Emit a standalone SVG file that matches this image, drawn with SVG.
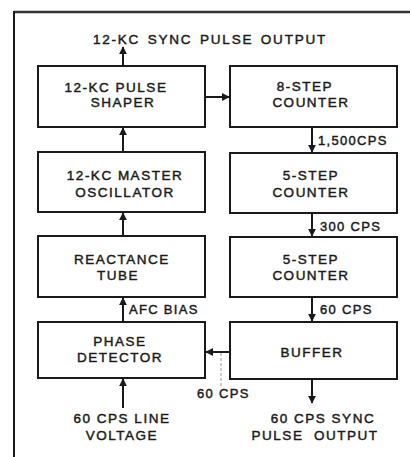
<svg xmlns="http://www.w3.org/2000/svg" width="412" height="457" viewBox="0 0 412 457">
<style>
.box{fill:#fff;stroke:#1a1a1a;stroke-width:2}
.t{font-family:"Liberation Sans",Arial,sans-serif;font-size:13.5px;fill:#1a1a1a;stroke:#1a1a1a;stroke-width:0.45;text-anchor:middle;letter-spacing:1.5px}
.l{font-family:"Liberation Sans",Arial,sans-serif;font-size:13px;fill:#1a1a1a;stroke:#1a1a1a;stroke-width:0.45;letter-spacing:1.3px}
.c{stroke:#1a1a1a;stroke-width:2;fill:none}
</style>
<defs>
<marker id="ah" viewBox="0 0 10 10" refX="9" refY="5" markerWidth="4" markerHeight="4" orient="auto">
<path d="M0,0 L10,5 L0,10 z" fill="#1a1a1a"/>
</marker>
</defs>
<rect width="412" height="457" fill="#fff"/>
<g id="frame">
<line x1="14" y1="12" x2="410" y2="12" stroke="#333" stroke-width="2.5"/>
<line x1="14" y1="11" x2="14" y2="457" stroke="#1a1a1a" stroke-width="2"/>
</g>
<g id="connectors">
<line class="c" x1="123" y1="66" x2="123" y2="47" marker-end="url(#ah)"/>
<line class="c" x1="205" y1="97" x2="229" y2="97" marker-end="url(#ah)"/>
<line class="c" x1="312" y1="127" x2="312" y2="152" marker-end="url(#ah)"/>
<line class="c" x1="123" y1="152" x2="123" y2="128" marker-end="url(#ah)"/>
<line class="c" x1="312" y1="213" x2="312" y2="236" marker-end="url(#ah)"/>
<line class="c" x1="123" y1="236" x2="123" y2="213" marker-end="url(#ah)"/>
<line class="c" x1="312" y1="297" x2="312" y2="321" marker-end="url(#ah)"/>
<line class="c" x1="123" y1="322" x2="123" y2="298" marker-end="url(#ah)"/>
<line class="c" x1="230" y1="352" x2="206" y2="352" marker-end="url(#ah)"/>
<line x1="221" y1="353" x2="221" y2="388" stroke="#999" stroke-width="1" stroke-dasharray="3,2"/>
<line class="c" x1="123" y1="408" x2="123" y2="379" marker-end="url(#ah)"/>
<line class="c" x1="312" y1="379" x2="312" y2="403" marker-end="url(#ah)"/>
<text class="l" x="318" y="145">1,500CPS</text>
<text class="l" x="320" y="231">300 CPS</text>
<text class="l" x="129" y="314">AFC BIAS</text>
<text class="l" x="320" y="314">60 CPS</text>
<text class="l" x="197" y="398">60 CPS</text>
</g>
<text class="t" x="210" y="44" style="letter-spacing:1.8px;word-spacing:2px">12-KC SYNC PULSE OUTPUT</text>
<g id="pulse-shaper">
<rect class="box" x="38" y="66" width="167" height="61"/>
<text class="t" x="116" y="92">12-KC PULSE</text>
<text class="t" x="123" y="107">SHAPER</text>
</g>
<g id="counter8">
<rect class="box" x="230" y="66" width="167" height="61"/>
<text class="t" x="305" y="91">8-STEP</text>
<text class="t" x="311" y="107">COUNTER</text>
</g>
<g id="oscillator">
<rect class="box" x="38" y="152" width="167" height="60"/>
<text class="t" x="125" y="180">12-KC MASTER</text>
<text class="t" x="125" y="197">OSCILLATOR</text>
</g>
<g id="counter5a">
<rect class="box" x="230" y="153" width="167" height="60"/>
<text class="t" x="311" y="180">5-STEP</text>
<text class="t" x="311" y="197">COUNTER</text>
</g>
<g id="reactance">
<rect class="box" x="38" y="236" width="167" height="61"/>
<text class="t" x="122" y="264">REACTANCE</text>
<text class="t" x="118" y="280">TUBE</text>
</g>
<g id="counter5b">
<rect class="box" x="230" y="237" width="167" height="60"/>
<text class="t" x="311" y="264">5-STEP</text>
<text class="t" x="311" y="280">COUNTER</text>
</g>
<g id="phase-detector">
<rect class="box" x="38" y="322" width="167" height="56"/>
<text class="t" x="120" y="346">PHASE</text>
<text class="t" x="120" y="362">DETECTOR</text>
</g>
<g id="buffer">
<rect class="box" x="230" y="322" width="167" height="57"/>
<text class="t" x="312" y="357">BUFFER</text>
</g>
<text class="t" x="122" y="423">60 CPS LINE</text>
<text class="t" x="122" y="440">VOLTAGE</text>
<text class="t" x="323" y="423">60 CPS SYNC</text>
<text class="t" x="315" y="440">PULSE&#160; OUTPUT</text>
</svg>
